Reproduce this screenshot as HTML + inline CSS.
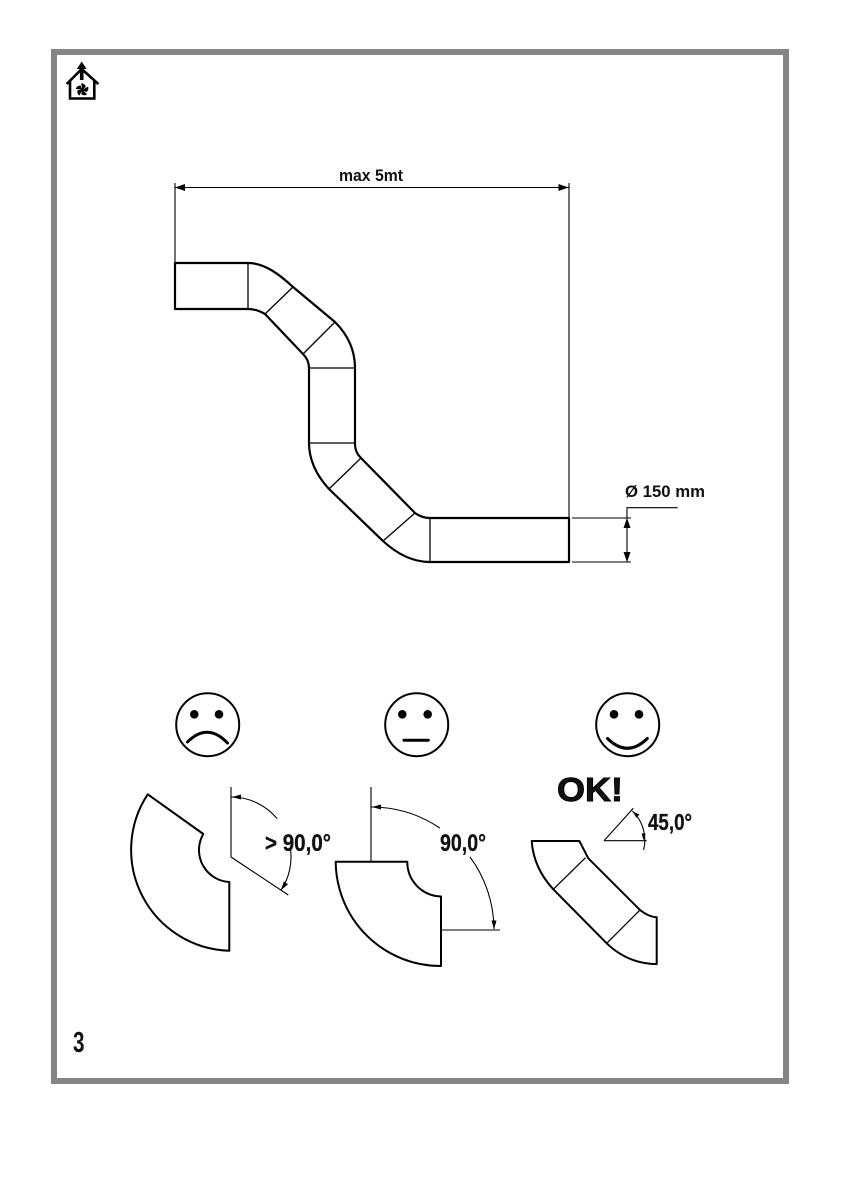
<!DOCTYPE html>
<html><head><meta charset="utf-8"><style>
html,body{margin:0;padding:0;background:#fff;}
svg{display:block;}
text{font-family:"Liberation Sans",sans-serif;font-weight:bold;fill:#111;}
</style></head><body>
<svg width="841" height="1191" viewBox="0 0 841 1191" xmlns="http://www.w3.org/2000/svg">
<rect x="0" y="0" width="841" height="1191" fill="#fff"/>
<!-- page border -->
<rect x="54" y="52" width="732" height="1029" fill="none" stroke="#858585" stroke-width="6"/>

<!-- icon -->
<g stroke="#000" fill="none" stroke-width="2.6">
  <polyline points="66.7,84 81.7,69 98.3,84"/>
  <polyline points="70,80 70,98.5 94.3,98.5 94.3,80"/>
</g>
<polygon points="81.7,61.5 76.8,69 86.6,69" fill="#000"/>
<rect x="79.9" y="67" width="3.6" height="13" fill="#000"/>
<g fill="#000" transform="translate(82.3,89.7)">
  <path d="M0,0 L-1.2,-6.5 Q2.5,-6.5 3.5,-3 Z"/>
  <path d="M0,0 L-1.2,-6.5 Q2.5,-6.5 3.5,-3 Z" transform="rotate(72)"/>
  <path d="M0,0 L-1.2,-6.5 Q2.5,-6.5 3.5,-3 Z" transform="rotate(144)"/>
  <path d="M0,0 L-1.2,-6.5 Q2.5,-6.5 3.5,-3 Z" transform="rotate(216)"/>
  <path d="M0,0 L-1.2,-6.5 Q2.5,-6.5 3.5,-3 Z" transform="rotate(288)"/>
  <circle r="1.8"/>
</g>

<!-- top dimension -->
<g stroke="#000" stroke-width="1.1" fill="none">
  <line x1="175" y1="187.5" x2="569" y2="187.5"/>
  <line x1="175" y1="183" x2="175" y2="263"/>
  <line x1="569" y1="183" x2="569" y2="518"/>
  <line x1="572" y1="518" x2="631" y2="518"/>
  <line x1="572" y1="562" x2="631" y2="562"/>
  <line x1="627" y1="518" x2="627" y2="562"/>
  <polyline points="627,518 627,507.7 677.7,507.7"/>
</g>
<polygon points="175,187.5 185,184 185,191" fill="#000"/>
<polygon points="568.5,187.5 558.5,184 558.5,191" fill="#000"/>
<polygon points="627,518 623.5,528 630.5,528" fill="#000"/>
<polygon points="627,562 623.5,552 630.5,552" fill="#000"/>
<text x="339" y="181" font-size="17" textLength="64" lengthAdjust="spacingAndGlyphs">max 5mt</text>
<text x="625" y="497" font-size="17" textLength="80" lengthAdjust="spacingAndGlyphs">Ø 150 mm</text>

<!-- main duct -->
<path d="M175,263 L248,263 C265,263 280,275 293,287 L335,322 C348,335 355,350 355,368 L355,443 C355,450 357,454 361,458 L415,513 C419,516 424,518 430,518 L569,518 L569,562 L430,562 C412,562 396,553 383,541 L329,489 C318,477 309,462 309,443 L309,368 C309,362 307,358 303,354 L265,314 C260,311 254,309 248,309 L175,309 Z" fill="none" stroke="#000" stroke-width="2.2" stroke-linejoin="round"/>
<g stroke="#000" stroke-width="1.3">
  <line x1="248" y1="263" x2="248" y2="309"/>
  <line x1="265" y1="314" x2="293" y2="287"/>
  <line x1="303" y1="354" x2="335" y2="322"/>
  <line x1="309" y1="368" x2="355" y2="368"/>
  <line x1="309" y1="443" x2="355" y2="443"/>
  <line x1="329" y1="489" x2="361" y2="458"/>
  <line x1="383" y1="541" x2="415" y2="513"/>
  <line x1="430" y1="518" x2="430" y2="562"/>
</g>

<!-- faces -->
<g stroke="#000" stroke-width="2" fill="none">
  <circle cx="207.7" cy="724.7" r="31.5"/>
  <circle cx="416.7" cy="724.7" r="31.5"/>
  <circle cx="627.7" cy="724.7" r="31.5"/>
</g>
<g fill="#000">
  <circle cx="194.3" cy="714.3" r="4.3"/>
  <circle cx="219" cy="714.3" r="4.3"/>
  <circle cx="402.3" cy="714.3" r="4.3"/>
  <circle cx="427.7" cy="714.3" r="4.3"/>
  <circle cx="614" cy="714.3" r="4.3"/>
  <circle cx="639" cy="714.3" r="4.3"/>
</g>
<g stroke="#000" stroke-width="3" fill="none" stroke-linecap="round">
  <path d="M187.5,742 Q207.5,722 227.5,743"/>
  <line x1="404" y1="740.3" x2="428.3" y2="740.3"/>
  <path d="M607.5,738.5 Q627.5,758 647.3,738.5"/>
</g>

<!-- sad elbow -->
<path d="M147.7,794.3 L203.3,834 A32,32 0 0 0 229.3,882 L229.3,950.7 A101,101 0 0 1 147.7,794.3 Z" fill="none" stroke="#000" stroke-width="2" stroke-linejoin="round"/>
<g stroke="#000" stroke-width="1.1" fill="none">
  <line x1="231" y1="787" x2="231" y2="857"/>
  <line x1="231" y1="857" x2="288.3" y2="895"/>
  <path d="M231,797 A60,60 0 0 1 277.2,818.7"/>
  <path d="M290.4,848.2 A60,60 0 0 1 280.9,890.3"/>
</g>
<polygon points="232,797 241,794.5 241,799.5" fill="#000"/>
<polygon points="280.9,890.3 288,884.2 283.8,881.4" fill="#000"/>
<text x="265" y="851" font-size="24" textLength="66" lengthAdjust="spacingAndGlyphs" stroke="#111" stroke-width="0.3">&gt; 90,0°</text>

<!-- neutral elbow -->
<path d="M335.7,861.7 L407.3,861.7 A34.5,34.5 0 0 0 441,896.5 L441,966 A105,105 0 0 1 335.7,861.7 Z" fill="none" stroke="#000" stroke-width="2" stroke-linejoin="round"/>
<g stroke="#000" stroke-width="1.1" fill="none">
  <line x1="371" y1="787" x2="371" y2="862"/>
  <line x1="441" y1="930" x2="500" y2="930"/>
  <path d="M371,807 A123,123 0 0 1 439.9,828.1"/>
  <path d="M469.9,856.8 A123,123 0 0 1 494,929"/>
</g>
<polygon points="372,807 381,804.5 381,809.5" fill="#000"/>
<polygon points="494,929.5 491.5,920.5 496.5,920.5" fill="#000"/>
<text x="440" y="851" font-size="24" textLength="46" lengthAdjust="spacingAndGlyphs" stroke="#111" stroke-width="0.3">90,0°</text>

<!-- good elbow -->
<text x="557" y="801" font-size="33" textLength="66" lengthAdjust="spacingAndGlyphs" fill="#000" stroke="#000" stroke-width="0.9">OK!</text>
<path d="M531.7,841 L579.3,841 C582,846 585,852 588.3,858.3 L640,910 C645,914 650,917 656.7,917.3 L656.7,964 C637,964 620,956 606.7,943.3 L553.3,889.3 C541,876 533,860 531.7,841 Z" fill="none" stroke="#000" stroke-width="2" stroke-linejoin="round"/>
<g stroke="#000" stroke-width="1.3">
  <line x1="553.3" y1="889.3" x2="585.5" y2="857.7"/>
  <line x1="606.7" y1="943.3" x2="640" y2="910"/>
</g>
<g stroke="#000" stroke-width="1.1" fill="none">
  <line x1="604" y1="840.7" x2="646.7" y2="840.7"/>
  <line x1="604" y1="840.7" x2="633.3" y2="808.3"/>
  <path d="M632.3,811 A40,40 0 0 1 643.6,850"/>
</g>
<polygon points="632.8,811.5 639.5,814.5 636.3,817.7" fill="#000"/>
<polygon points="643.6,840.5 641.6,833.5 645.6,833.5" fill="#000"/>
<text x="648" y="830" font-size="23" textLength="44" lengthAdjust="spacingAndGlyphs" stroke="#111" stroke-width="0.3">45,0°</text>

<!-- page number -->
<text x="73" y="1052" font-size="29" textLength="11.5" lengthAdjust="spacingAndGlyphs">3</text>
</svg>
</body></html>
